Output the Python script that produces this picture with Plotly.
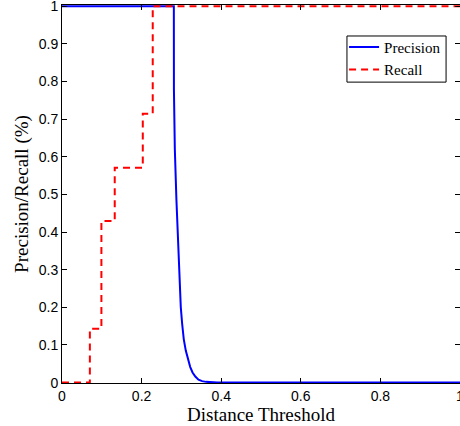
import plotly.graph_objects as go

# Precision curve (distance threshold vs precision)
prec_x = [0.0, 0.281, 0.2812, 0.2835, 0.2875, 0.291, 0.295, 0.2985, 0.302, 0.306,
          0.311, 0.316, 0.322, 0.328, 0.335, 0.343, 0.352, 0.362, 0.375, 0.39, 1.0]
prec_y = [1.0, 1.0, 0.78, 0.62, 0.485, 0.38, 0.27, 0.2, 0.155, 0.115,
          0.085, 0.062, 0.042, 0.027, 0.016, 0.008, 0.004, 0.002, 0.0005, 0.0, 0.0]

# Recall curve (step function)
rec_x = [0.0, 0.07, 0.099, 0.1325, 0.203, 0.228, 1.0]
rec_y = [0.0, 0.143, 0.429, 0.571, 0.714, 1.0, 1.0]

x_ticks = [0, 0.2, 0.4, 0.6, 0.8, 1.0]
x_tick_labels = ["0", "0.2", "0.4", "0.6", "0.8", "1"]
y_ticks = [0, 0.1, 0.2, 0.3, 0.4, 0.5, 0.6, 0.7, 0.8, 0.9, 1.0]
y_tick_labels = ["0", "0.1", "0.2", "0.3", "0.4", "0.5", "0.6", "0.7", "0.8", "0.9", "1"]

serif = "Liberation Serif, Times New Roman, serif"
sans = "Liberation Sans, Arial, Helvetica, sans-serif"

fig = go.Figure()
fig.add_trace(go.Scatter(x=prec_x, y=prec_y, mode="lines", name="Precision",
                         line=dict(color="#0000ff", width=2)))
fig.add_trace(go.Scatter(x=rec_x, y=rec_y, mode="lines", name="Recall",
                         line=dict(color="#ff0000", width=2, dash="7px,5px", shape="hv")))

axis_common = dict(showgrid=False, zeroline=False, showline=True, linecolor="black",
                   linewidth=1, ticks="inside", ticklen=5, tickcolor="black",
                   tickwidth=1, mirror="ticks", automargin=False,
                   ticklabeloverflow="allow",
                   tickfont=dict(family=sans, size=14, color="black"))

fig.update_xaxes(range=[0, 1.0], tickvals=x_ticks, ticktext=x_tick_labels,
                 title=dict(text="Distance Threshold", font=dict(family=serif, size=19, color="black"),
                            standoff=2),
                 **axis_common)
fig.update_yaxes(range=[-0.001, 1.003], tickvals=y_ticks, ticktext=y_tick_labels,
                 title=dict(text="Precision/Recall (%)", font=dict(family=serif, size=19, color="black"),
                            standoff=5),
                 **axis_common)

# legend frame
fig.add_shape(type="rect", xref="paper", yref="paper",
              x0=0.716, x1=0.965, y0=0.796, y1=0.918,
              line=dict(color="black", width=1), fillcolor="white", layer="above")

fig.update_layout(
    width=460, height=426,
    margin=dict(l=62, r=0, t=5, b=43),
    paper_bgcolor="white", plot_bgcolor="white",
    legend=dict(x=0.965, y=0.932, xanchor="right", yanchor="top",
                bgcolor="rgba(0,0,0,0)", borderwidth=0,
                font=dict(family=serif, size=15, color="black"),
                itemwidth=30),
)

fig.write_html("out.html", config={"displayModeBar": False},
               post_script="document.body.style.margin='0';document.body.style.overflow='hidden';")
